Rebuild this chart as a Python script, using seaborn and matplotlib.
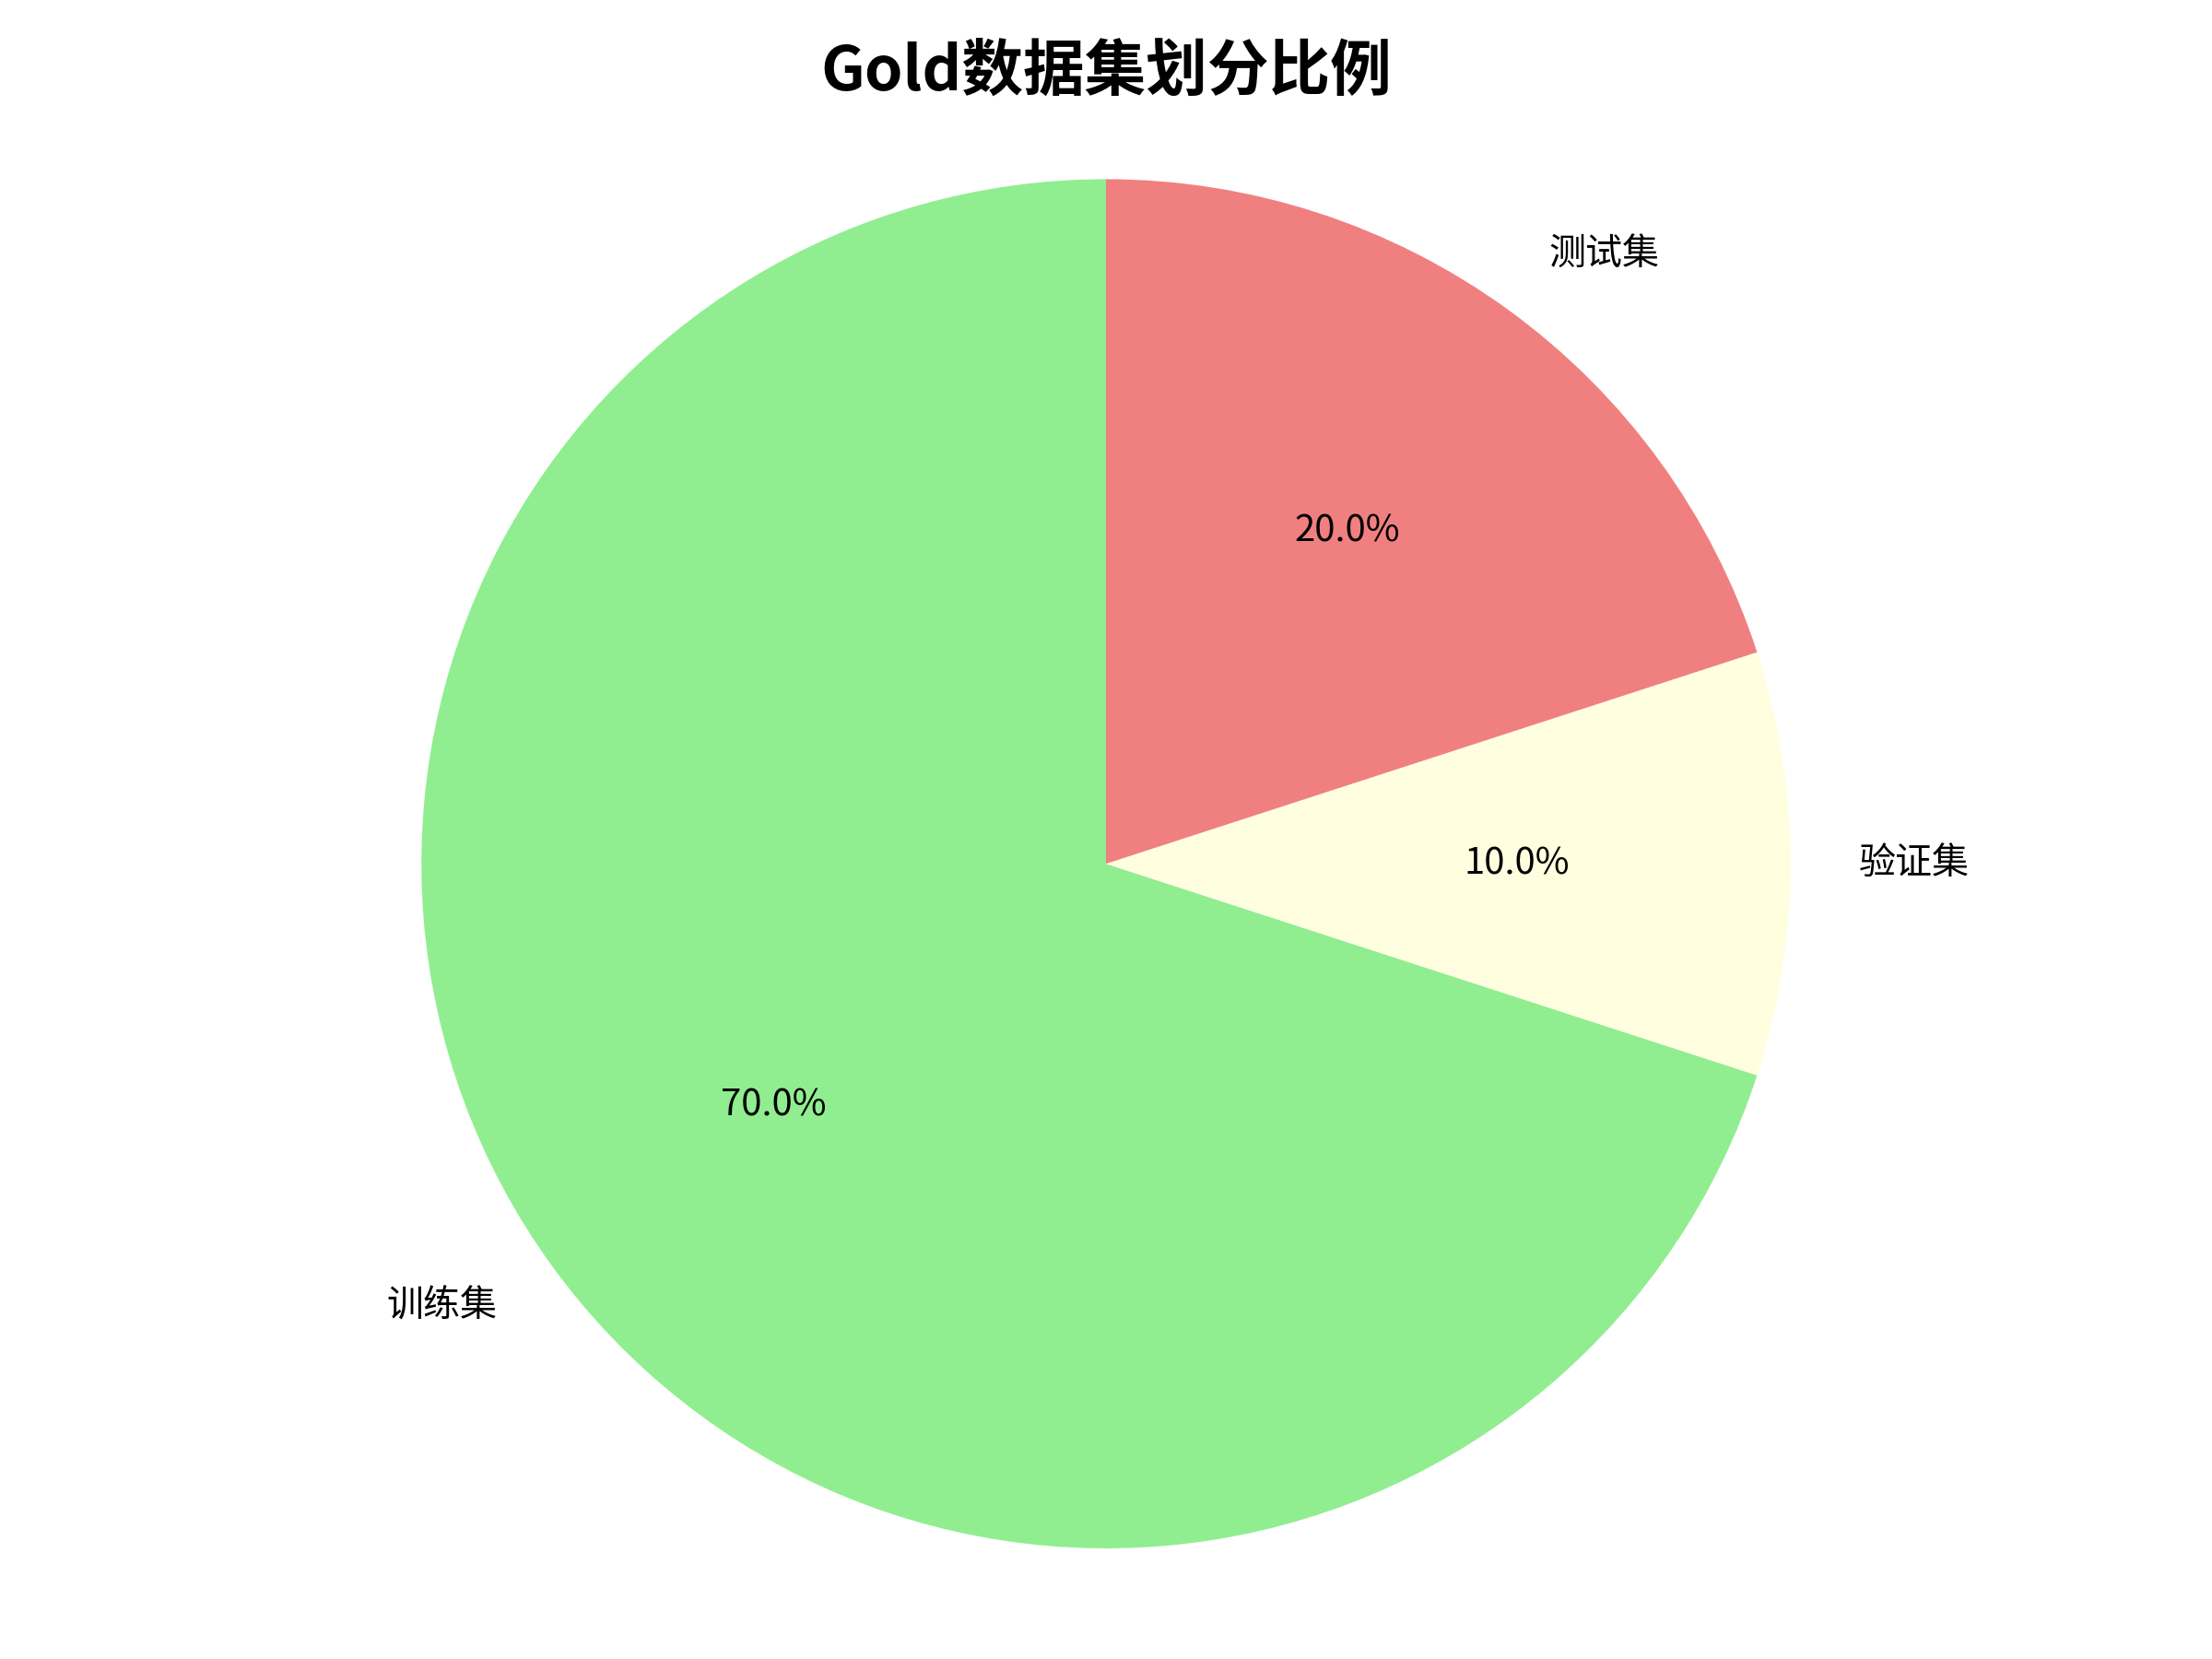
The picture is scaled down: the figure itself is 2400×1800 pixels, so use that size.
"""
Gold dataset split ratio pie chart.
"""

import matplotlib
matplotlib.use("Agg")
import matplotlib.pyplot as plt
import seaborn as sns

sns.set_style("white")
plt.rcParams['font.family'] = ['Noto Sans CJK SC', 'DejaVu Sans']
plt.rcParams['axes.unicode_minus'] = False
plt.rcParams['text.color'] = 'black'

split_labels = ["训练集", "验证集", "测试集"]
split_ratios = [70, 10, 20]
split_colors = ["lightgreen", "lightyellow", "lightcoral"]


def main():
    fig, ax = plt.subplots(figsize=(10, 7.5), dpi=240)
    ax.pie(split_ratios, labels=split_labels, colors=split_colors,
           autopct="%1.1f%%", startangle=90,
           wedgeprops={"linewidth": 0, "edgecolor": "none"},
           textprops={"fontsize": 12, "color": "black"})
    ax.set_xlim(-1, 1)
    ax.set_ylim(-1, 1)
    ax.set_aspect("equal", adjustable="box")
    ax.set_title("Gold数据集划分比例", fontsize=20, fontweight="bold",
                 color="black", pad=29)
    fig.subplots_adjust(left=0.05, right=0.95, bottom=0.0667, top=0.892)
    plt.savefig("out.png", dpi=240)


if __name__ == "__main__":
    main()
